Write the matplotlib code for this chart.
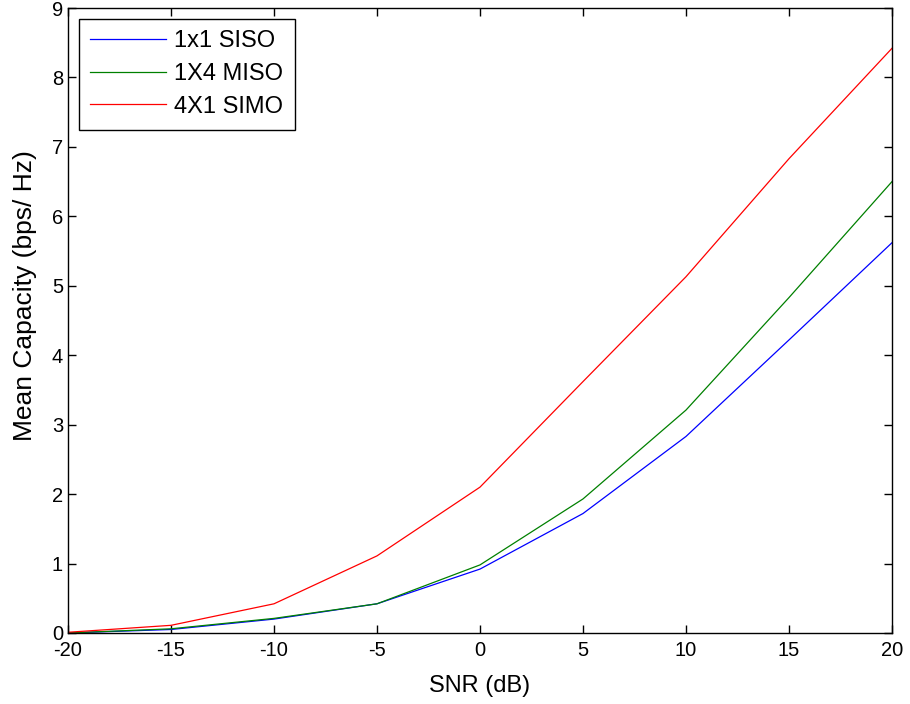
import numpy as np
import matplotlib.pyplot as plt

plt.rcParams['font.family'] = ['Liberation Sans', 'DejaVu Sans']
plt.rcParams['axes.unicode_minus'] = False

# SNR values (dB)
snr = [-20, -15, -10, -5, 0, 5, 10, 15, 20]
# mean capacity (bps/Hz)
siso = [0.0, 0.05, 0.2, 0.42, 0.92, 1.72, 2.83, 4.22, 5.62]
miso = [0.0, 0.06, 0.21, 0.42, 0.98, 1.93, 3.21, 4.83, 6.5]
simo = [0.01, 0.11, 0.42, 1.11, 2.1, 3.62, 5.13, 6.83, 8.42]

fig = plt.figure(figsize=(9.1, 7.04), dpi=100)
ax = fig.add_axes([0.0747, 0.1009, 0.9055, 0.8877])

ax.plot(snr, siso, color='blue', lw=0.9, label='1x1 SISO')
ax.plot(snr, miso, color='green', lw=0.9, label='1X4 MISO')
ax.plot(snr, simo, color='red', lw=0.9, label='4X1 SIMO')

ax.set_xlim(-20, 20)
ax.set_ylim(0, 9)
ax.set_xticks(np.arange(-20, 21, 5))
ax.set_yticks(np.arange(0, 10, 1))
ax.tick_params(direction='in', top=True, right=True, labelsize=14.5, length=6, width=1)
ax.tick_params(axis='x', pad=6)
for s in ax.spines.values():
    s.set_linewidth(1)

ax.set_xlabel('SNR (dB)', fontsize=17)
ax.set_ylabel('Mean Capacity (bps/ Hz)', fontsize=19)
ax.xaxis.set_label_coords(0.5, -0.068)
ax.yaxis.set_label_coords(-0.038, 0.54)

leg = ax.legend(loc='upper left', fontsize=17, fancybox=False, framealpha=1,
                edgecolor='black', borderaxespad=0.45, borderpad=0.5,
                handlelength=3.2, handletextpad=0.35, labelspacing=0.45)
leg.get_frame().set_linewidth(1)

fig.savefig('out.png', dpi=100)
